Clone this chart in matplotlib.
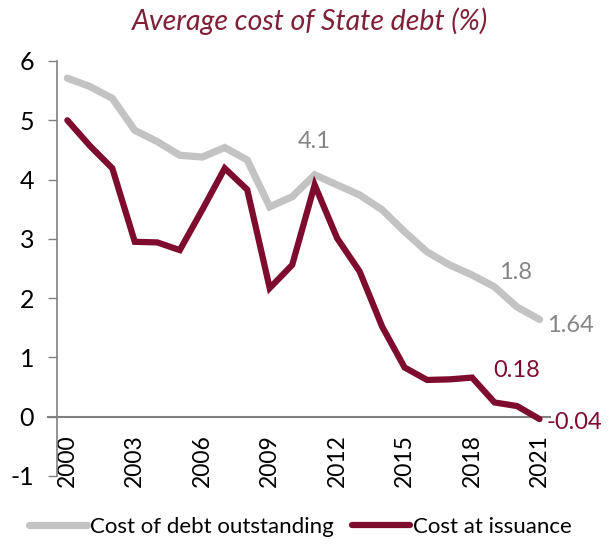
import matplotlib
matplotlib.use("Agg")
import matplotlib.pyplot as plt

plt.rcParams.update({
    "font.family": ["Lato", "DejaVu Sans"],
    "figure.dpi": 100,
    "savefig.dpi": 100,
})

RED = "#7E0C2E"     # cost at issuance
GREY = "#C3C3C3"    # cost of debt outstanding
LABEL_GREY = "#858585"
TITLE = "#7F2035"
AXIS = "#808080"

years = list(range(2000, 2022))
outstanding = [5.71, 5.57, 5.37, 4.83, 4.64, 4.41, 4.38, 4.54, 4.33, 3.54, 3.71,
               4.08, 3.91, 3.74, 3.49, 3.12, 2.78, 2.56, 2.39, 2.19, 1.85, 1.64]
issuance = [5.00, 4.57, 4.19, 2.95, 2.94, 2.81, 3.49, 4.19, 3.83, 2.17, 2.56,
            3.91, 3.01, 2.45, 1.52, 0.83, 0.62, 0.63, 0.66, 0.24, 0.18, -0.04]
tick_years = [2000, 2003, 2006, 2009, 2012, 2015, 2018, 2021]
y_ticks = [-1, 0, 1, 2, 3, 4, 5, 6]

fig = plt.figure(figsize=(6.13, 5.54))
ax = fig.add_axes([0.093, 0.1408, 0.804, 0.7491])

ax.plot(years, outstanding, color=GREY, lw=5.2, solid_joinstyle="miter",
        solid_capstyle="round", label="Cost of debt outstanding", zorder=3)
ax.plot(years, issuance, color=RED, lw=4.5, solid_joinstyle="miter",
        solid_capstyle="round", label="Cost at issuance", zorder=4)

ax.set_xlim(1999.54, 2021.46)
ax.set_ylim(-1, 6)

for s in ["top", "right", "bottom"]:
    ax.spines[s].set_visible(False)
ax.spines["left"].set_color(AXIS)
ax.spines["left"].set_linewidth(1.2)

# horizontal axis sits at zero, stretched out over the tick marks
ax.axhline(0, xmin=-0.019, xmax=1, color=AXIS, lw=1.5, clip_on=False, zorder=2)

ax.set_yticks(y_ticks)
ax.set_yticklabels([str(v) for v in y_ticks])
ax.tick_params(axis="y", length=6.5, width=1, color=AXIS, pad=10,
               labelsize=18)
ax.set_xticks(tick_years)
ax.set_xticklabels([str(y) for y in tick_years], rotation=90)
ax.tick_params(axis="x", length=0, pad=-30, labelsize=16.5)

# data labels
def label(x, y, txt, color, dx, dy, ha="center"):
    ax.annotate(txt, xy=(x, y), xytext=(dx, dy), textcoords="offset pixels",
                ha=ha, va="center", color=color, fontsize=17)

label(years[11], outstanding[11], "4.1", LABEL_GREY, 0, 33)
label(years[20], outstanding[20], "1.8", LABEL_GREY, -2, 35)
label(years[21], outstanding[21], "1.64", LABEL_GREY, 7, -6, ha="left")
label(years[20], issuance[20], "0.18", RED, 0, 36)
label(years[21], issuance[21], "-0.04", RED, 7, -3, ha="left")

fig.text(0.505, 0.962, "Average cost of State debt (%)", ha="center",
         va="center", style="italic", color=TITLE, fontsize=20.5)

fig.legend(loc="lower center", bbox_to_anchor=(0.49, -0.005), ncol=2,
           frameon=False, fontsize=16, handlelength=2.6,
           handletextpad=0.15, columnspacing=0.8)

fig.savefig("out.png")
